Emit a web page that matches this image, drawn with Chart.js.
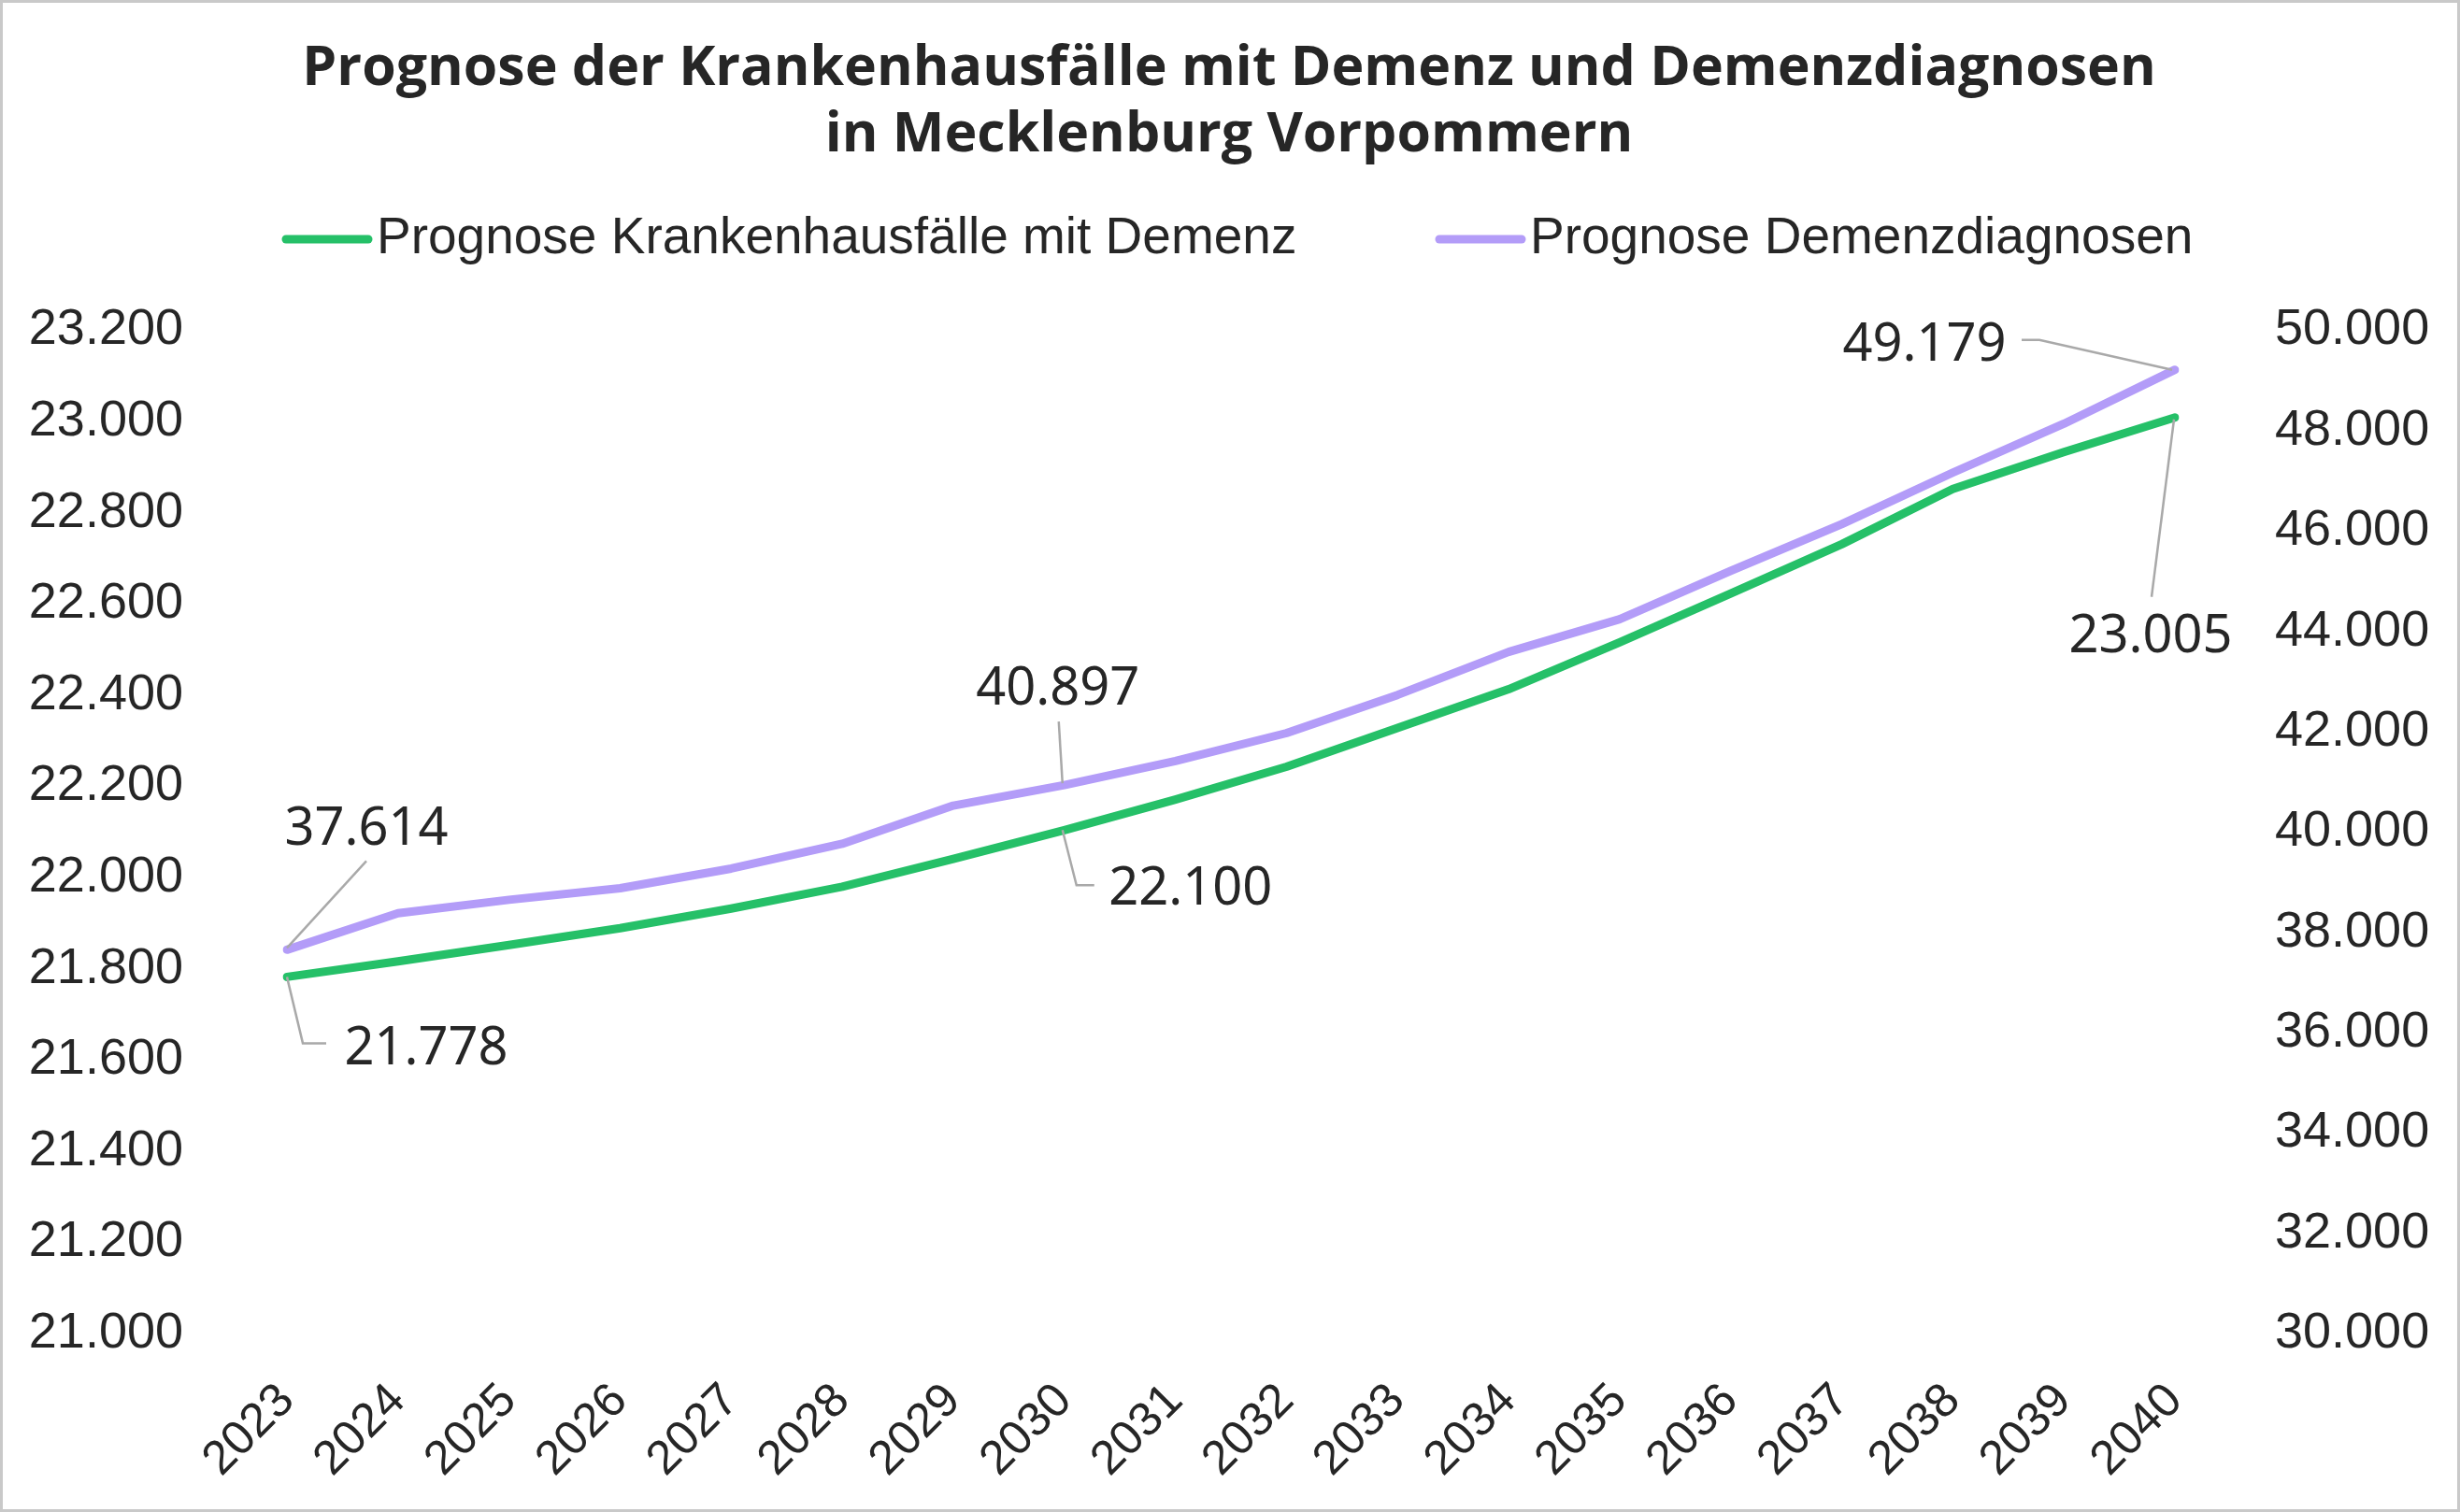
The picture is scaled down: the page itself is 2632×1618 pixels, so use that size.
<!DOCTYPE html>
<html>
<head>
<meta charset="utf-8">
<script src="https://cdn.jsdelivr.net/npm/chart.js@4.4.1/dist/chart.umd.min.js"></script>
<style>
  html, body { margin: 0; padding: 0; background: #fff; }
  #wrap { position: relative; width: 2632px; height: 1618px; }
  #frame { position: absolute; left: 0; top: 0; width: 2632px; height: 1618px; box-sizing: border-box; border: 3px solid #c9c9c9; pointer-events: none; }
  canvas { position: absolute; left: 0; top: 0; }
</style>
</head>
<body>
<div id="wrap">
  <canvas id="c" width="2632" height="1618"></canvas>
  <div id="frame"></div>
</div>
<script>
// ---- data ----
const years = ['2023','2024','2025','2026','2027','2028','2029','2030','2031','2032','2033','2034','2035','2036','2037','2038','2039','2040'];
const krankenhausfaelle = [21778, 21812, 21848, 21885, 21928, 21976, 22037, 22100, 22167, 22239, 22324, 22409, 22512, 22619, 22727, 22848, 22929, 23005];
const demenzdiagnosen = [37614, 38343, 38610, 38841, 39233, 39727, 40488, 40897, 41377, 41934, 42695, 43553, 44204, 45169, 46102, 47128, 48102, 49179];
const seriesNames = ['Prognose Krankenhausfälle mit Demenz', 'Prognose Demenzdiagnosen'];
const titleLines = ['Prognose der Krankenhausfälle mit Demenz und Demenzdiagnosen', 'in Mecklenburg Vorpommern'];
const leftTicks = { min: 21000, max: 23200, step: 200 };
const rightTicks = { min: 30000, max: 50000, step: 2000 };
// which points carry a value label: [datasetIndex, pointIndex]
const labelledPoints = [[1,0],[0,0],[1,7],[0,7],[1,17],[0,17]];

// ---- styling ----
const GREEN = '#25c068';
const PURPLE = '#b39cf8';
const TEXT = '#262626';
const LEADER = '#a9a9a9';
const AXIS_FONT = { family: "'Liberation Sans', Arial, sans-serif", size: 54 };
const XAXIS_FONT = { family: "'Liberation Sans', Arial, sans-serif", size: 51 };

function fmt(n) {
  return String(Math.round(n)).replace(/\B(?=(\d{3})+(?!\d))/g, '.');
}

// label placement relative to the point (text centre and leader polyline)
const labelStyle = {
  '1,0':  { text: [85, -128], leader: [[0,-2],[85,-95]] },
  '0,0':  { text: [149, 78],  leader: [[0,0],[17,71],[42,71]] },
  '1,7':  { text: [-7, -102], leader: [[-6,-68],[-2,-2]] },
  '0,7':  { text: [135, 64],  leader: [[-2,0],[13,59],[32,59]] },
  '1,17': { text: [-268, -26], leader: [[-164,-32],[-145,-32],[-3,0]] },
  '0,17': { text: [-26, 235], leader: [[-1,2],[-25,192]] }
};

const valueLabels = {
  id: 'valueLabels',
  afterDatasetsDraw(chart) {
    const ctx = chart.ctx;
    ctx.save();
    labelledPoints.forEach(([di, pi]) => {
      const pt = chart.getDatasetMeta(di).data[pi];
      const st = labelStyle[di + ',' + pi];
      ctx.strokeStyle = LEADER;
      ctx.lineWidth = 2.5;
      ctx.beginPath();
      st.leader.forEach((p, k) => {
        const x = pt.x + p[0], y = pt.y + p[1];
        if (k === 0) ctx.moveTo(x, y); else ctx.lineTo(x, y);
      });
      ctx.stroke();
      ctx.fillStyle = TEXT;
      ctx.font = "56px 'Noto Sans', 'DejaVu Sans', sans-serif";
      ctx.textAlign = 'center';
      ctx.textBaseline = 'middle';
      ctx.fillText(fmt(chart.data.datasets[di].data[pi]), pt.x + st.text[0], pt.y + st.text[1]);
    });
    ctx.restore();
  }
};

const legendPos = [ {x: 302, y: 256}, {x: 1536, y: 256} ];
const customLegend = {
  id: 'customLegend',
  afterDraw(chart) {
    const ctx = chart.ctx;
    ctx.save();
    chart.data.datasets.forEach((ds, i) => {
      const p = legendPos[i];
      ctx.strokeStyle = ds.borderColor;
      ctx.lineWidth = 9;
      ctx.lineCap = 'round';
      ctx.beginPath();
      ctx.moveTo(p.x + 4, p.y);
      ctx.lineTo(p.x + 92, p.y);
      ctx.stroke();
      ctx.fillStyle = TEXT;
      ctx.font = "55px 'Liberation Sans', Arial, sans-serif";
      ctx.textAlign = 'left';
      ctx.textBaseline = 'middle';
      ctx.fillText(ds.label, p.x + 101, p.y);
    });
    ctx.restore();
  }
};

new Chart(document.getElementById('c'), {
  type: 'line',
  data: {
    labels: years,
    datasets: [
      { label: seriesNames[0], data: krankenhausfaelle, yAxisID: 'y', borderColor: GREEN, backgroundColor: GREEN,
        borderWidth: 9, pointRadius: 0, tension: 0, borderJoinStyle: 'round', borderCapStyle: 'round' },
      { label: seriesNames[1], data: demenzdiagnosen, yAxisID: 'y1', borderColor: PURPLE, backgroundColor: PURPLE,
        borderWidth: 9, pointRadius: 0, tension: 0, borderJoinStyle: 'round', borderCapStyle: 'round' }
    ]
  },
  options: {
    responsive: false,
    animation: false,
    devicePixelRatio: 1,
    layout: { padding: { left: 31, right: 33, top: 0, bottom: 0 } },
    plugins: {
      legend: { display: false },
      tooltip: { enabled: false },
      title: {
        display: true,
        text: titleLines,
        color: TEXT,
        font: { family: "'Open Sans', 'Noto Sans', sans-serif", size: 59, weight: 'bold', lineHeight: 1.2 },
        padding: { top: 39, bottom: 171 }
      }
    },
    scales: {
      x: {
        type: 'category',
        offset: false,
        grid: { display: false, drawTicks: false },
        border: { display: false },
        ticks: { color: TEXT, font: XAXIS_FONT, minRotation: 45, maxRotation: 45, autoSkip: false, padding: 44 },
        afterFit: s => { s.height = 193; }
      },
      y: {
        position: 'left',
        min: leftTicks.min, max: leftTicks.max,
        grid: { display: false, drawTicks: false },
        border: { display: false },
        ticks: { stepSize: leftTicks.step, color: TEXT, font: AXIS_FONT, padding: 111, labelOffset: 2, callback: v => fmt(v) },
        afterFit: s => { s.width = 276; }
      },
      y1: {
        position: 'right',
        min: rightTicks.min, max: rightTicks.max,
        grid: { display: false, drawTicks: false },
        border: { display: false },
        ticks: { stepSize: rightTicks.step, color: TEXT, font: AXIS_FONT, padding: 107, labelOffset: 2, callback: v => fmt(v) },
        afterFit: s => { s.width = 272; }
      }
    }
  },
  plugins: [valueLabels, customLegend]
});
</script>
</body>
</html>
